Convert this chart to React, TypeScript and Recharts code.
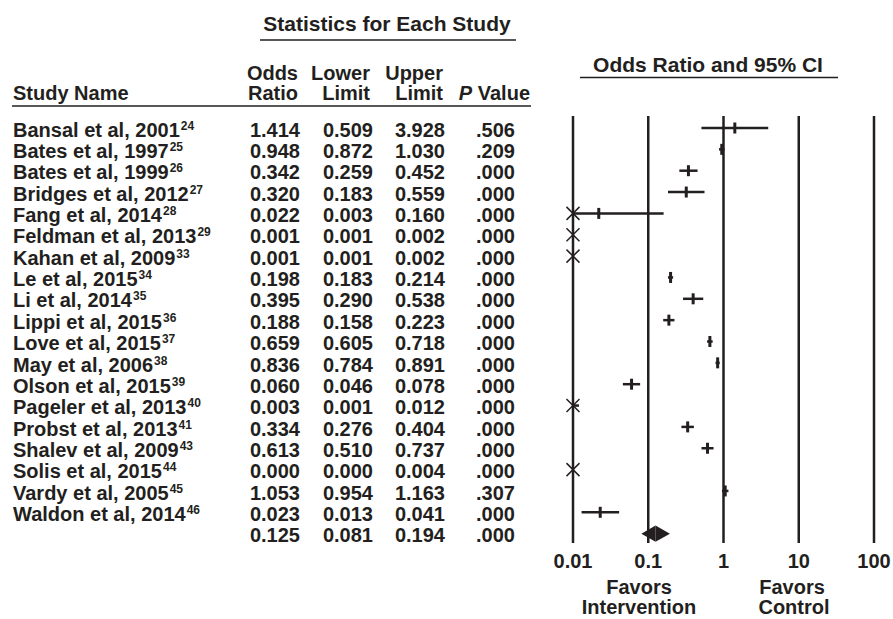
import {
  ComposedChart,
  ReferenceArea,
  ReferenceLine,
  Scatter,
  XAxis,
  YAxis,
} from "recharts";

// study rows, top to bottom
const studyNames = [
  "Bansal et al, 2001",
  "Bates et al, 1997",
  "Bates et al, 1999",
  "Bridges et al, 2012",
  "Fang et al, 2014",
  "Feldman et al, 2013",
  "Kahan et al, 2009",
  "Le et al, 2015",
  "Li et al, 2014",
  "Lippi et al, 2015",
  "Love et al, 2015",
  "May et al, 2006",
  "Olson et al, 2015",
  "Pageler et al, 2013",
  "Probst et al, 2013",
  "Shalev et al, 2009",
  "Solis et al, 2015",
  "Vardy et al, 2005",
  "Waldon et al, 2014",
];
const refNumbers = [
  "24", "25", "26", "27", "28", "29", "33", "34", "35", "36",
  "37", "38", "39", "40", "41", "43", "44", "45", "46",
];
const oddsRatios = [
  1.414, 0.948, 0.342, 0.32, 0.022, 0.001, 0.001, 0.198, 0.395, 0.188,
  0.659, 0.836, 0.06, 0.003, 0.334, 0.613, 0.0, 1.053, 0.023,
];
const lowerLimits = [
  0.509, 0.872, 0.259, 0.183, 0.003, 0.001, 0.001, 0.183, 0.29, 0.158,
  0.605, 0.784, 0.046, 0.001, 0.276, 0.51, 0.0, 0.954, 0.013,
];
const upperLimits = [
  3.928, 1.03, 0.452, 0.559, 0.16, 0.002, 0.002, 0.214, 0.538, 0.223,
  0.718, 0.891, 0.078, 0.012, 0.404, 0.737, 0.004, 1.163, 0.041,
];
const pValues = [
  0.506, 0.209, 0.0, 0.0, 0.0, 0.0, 0.0, 0.0, 0.0, 0.0,
  0.0, 0.0, 0.0, 0.0, 0.0, 0.0, 0.0, 0.307, 0.0,
];

// pooled estimate
const summaryOR = 0.125;
const summaryLower = 0.081;
const summaryUpper = 0.194;
const summaryP = 0.0;

const xTicks = [0.01, 0.1, 1, 10, 100];

const INK = "#231f20";
const FONT = '"Liberation Sans", Arial, Helvetica, sans-serif';
const X_MIN = xTicks[0];
const X_MAX = xTicks[xTicks.length - 1];
const SUMMARY_ROW = studyNames.length;

const fmt = (v: number) => v.toFixed(3);
const fmtP = (v: number) => v.toFixed(3).replace(/^0/, "");

// estimates inside the axis get a tick, CIs running off the left edge get an X
const pointData = studyNames
  .map((_, i) => ({ x: oddsRatios[i], y: i }))
  .filter((d) => d.x >= X_MIN);
const cutData = studyNames
  .map((_, i) => ({ x: X_MIN, y: i, lo: lowerLimits[i] }))
  .filter((d) => d.lo < X_MIN);
const ciSegments = studyNames
  .map((_, i) => ({
    lo: Math.max(lowerLimits[i], X_MIN),
    hi: upperLimits[i],
    y: i,
  }))
  .filter((d) => d.hi > X_MIN);

const rowTicks = Array.from({ length: SUMMARY_ROW + 1 }, (_, i) => i);

function RowTick(props: any) {
  const i = props.payload.value as number;
  const y = props.y + 8.7;
  const isSummary = i === SUMMARY_ROW;
  const or = isSummary ? summaryOR : oddsRatios[i];
  const lo = isSummary ? summaryLower : lowerLimits[i];
  const hi = isSummary ? summaryUpper : upperLimits[i];
  const p = isSummary ? summaryP : pValues[i];
  return (
    <g fontFamily={FONT} fontWeight="bold" fontSize={20} fill={INK}>
      {!isSummary && (
        <text x={13} y={y}>
          {studyNames[i]}
          <tspan fontSize={12} dx={1} dy={-7}>
            {refNumbers[i]}
          </tspan>
        </text>
      )}
      <text x={300} y={y} textAnchor="end">{fmt(or)}</text>
      <text x={373} y={y} textAnchor="end">{fmt(lo)}</text>
      <text x={445} y={y} textAnchor="end">{fmt(hi)}</text>
      <text x={515} y={y} textAnchor="end">{fmtP(p)}</text>
    </g>
  );
}

function XTick(props: any) {
  return (
    <text
      x={props.x}
      y={568}
      textAnchor="middle"
      fontFamily={FONT}
      fontWeight="bold"
      fontSize={20}
      fill={INK}
    >
      {String(props.payload.value)}
    </text>
  );
}

const EstimateMark = (props: any) => (
  <line
    x1={props.cx}
    x2={props.cx}
    y1={props.cy - 5.5}
    y2={props.cy + 5.5}
    stroke={INK}
    strokeWidth={3}
  />
);

const CutMark = (props: any) => (
  <g stroke={INK} strokeWidth={1.5}>
    <line x1={props.cx - 6.5} y1={props.cy - 6.5} x2={props.cx + 6.5} y2={props.cy + 6.5} />
    <line x1={props.cx - 6.5} y1={props.cy + 6.5} x2={props.cx + 6.5} y2={props.cy - 6.5} />
  </g>
);

const LeftHalf = (props: any) => (
  <polygon
    points={`${props.x},${props.y + props.height / 2} ${props.x + props.width},${props.y} ${props.x + props.width},${props.y + props.height}`}
    fill={INK}
  />
);
const RightHalf = (props: any) => (
  <polygon
    points={`${props.x},${props.y} ${props.x + props.width},${props.y + props.height / 2} ${props.x},${props.y + props.height}`}
    fill={INK}
  />
);

const textStyle = {
  fontFamily: FONT,
  fontWeight: "bold" as const,
  fill: INK,
};

export default function App() {
  return (
    <div
      style={{
        position: "absolute",
        left: 0,
        top: 0,
        width: 893,
        height: 619,
        background: "#fff",
      }}
    >
      <ComposedChart
        width={893}
        height={619}
        margin={{ top: 116, right: 19, bottom: 0, left: 0 }}
      >
        <XAxis
          type="number"
          dataKey="x"
          scale="log"
          domain={[X_MIN, X_MAX]}
          ticks={xTicks}
          axisLine={false}
          tickLine={false}
          height={76}
          interval={0}
          tick={<XTick />}
        />
        <YAxis
          type="number"
          dataKey="y"
          domain={[-0.562, 19.438]}
          reversed
          ticks={rowTicks}
          interval={0}
          axisLine={false}
          tickLine={false}
          width={573}
          tick={<RowTick />}
        />

        {xTicks.map((t) => (
          <ReferenceLine key={t} x={t} stroke={INK} strokeWidth={2.5} />
        ))}

        {ciSegments.map((d) => (
          <ReferenceLine
            key={`ci-${d.y}`}
            segment={[
              { x: d.lo, y: d.y },
              { x: d.hi, y: d.y },
            ]}
            stroke={INK}
            strokeWidth={2.5}
          />
        ))}

        <Scatter
          data={pointData}
          shape={<EstimateMark />}
          isAnimationActive={false}
        />
        <Scatter
          data={cutData}
          shape={<CutMark />}
          isAnimationActive={false}
        />

        <ReferenceArea
          x1={summaryLower}
          x2={summaryOR}
          y1={SUMMARY_ROW - 0.38}
          y2={SUMMARY_ROW + 0.38}
          shape={<LeftHalf />}
        />
        <ReferenceArea
          x1={summaryOR}
          x2={summaryUpper}
          y1={SUMMARY_ROW - 0.38}
          y2={SUMMARY_ROW + 0.38}
          shape={<RightHalf />}
        />
      </ComposedChart>

      <svg
        width={893}
        height={619}
        style={{ position: "absolute", left: 0, top: 0, pointerEvents: "none" }}
      >
        <g {...textStyle} fontSize={21}>
          <text x={387} y={31} textAnchor="middle">Statistics for Each Study</text>
          <text x={708} y={72} textAnchor="middle">Odds Ratio and 95% CI</text>
        </g>
        <g {...textStyle} fontSize={20}>
          <text x={639} y={594} textAnchor="middle">Favors</text>
          <text x={639} y={614} textAnchor="middle">Intervention</text>
          <text x={792} y={594} textAnchor="middle">Favors</text>
          <text x={794} y={614} textAnchor="middle">Control</text>
        </g>
        <g {...textStyle} fontSize={20}>
          <text x={13} y={100}>Study Name</text>
          <text x={298} y={80} textAnchor="end">Odds</text>
          <text x={298} y={100} textAnchor="end">Ratio</text>
          <text x={370} y={80} textAnchor="end">Lower</text>
          <text x={370} y={100} textAnchor="end">Limit</text>
          <text x={443} y={80} textAnchor="end">Upper</text>
          <text x={443} y={100} textAnchor="end">Limit</text>
          <text x={530} y={100} textAnchor="end">
            <tspan fontStyle="italic">P</tspan> Value
          </text>
        </g>
        <g stroke={INK} strokeWidth={1.5}>
          <line x1={260} x2={516} y1={40} y2={40} />
          <line x1={12} x2={531} y1={106} y2={106} />
          <line x1={580} x2={838} y1={77.5} y2={77.5} />
        </g>
      </svg>
    </div>
  );
}
